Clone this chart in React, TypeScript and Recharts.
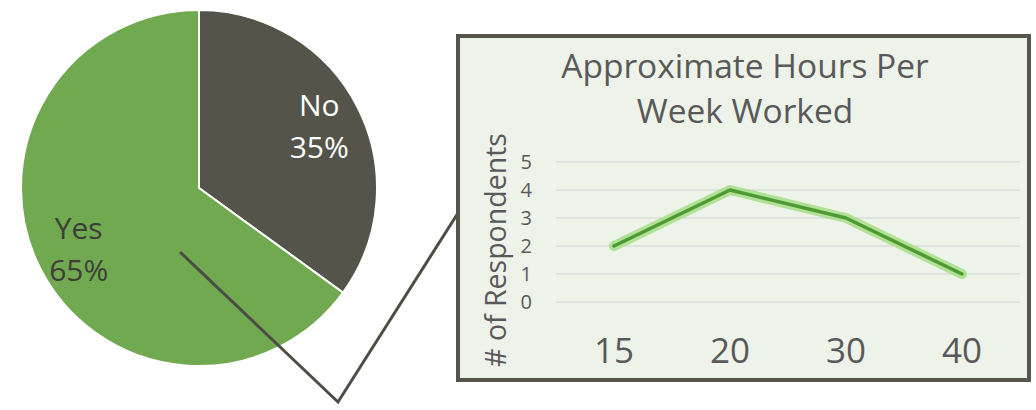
import React from 'react';
import { PieChart, Pie, Cell, LineChart, Line, XAxis, YAxis, CartesianGrid } from 'recharts';

const answers = ['No', 'Yes'];
const answerShares = [35, 65];
const answerColors = ['#54544b', '#71a950'];
const answerTextColors = ['#ffffff', '#3f3f3a'];

const hours = ['15', '20', '30', '40'];
const respondents = [2, 4, 3, 1];
const yTicks = [0, 1, 2, 3, 4, 5];

const pieData = answers.map((name, i) => ({ name, value: answerShares[i] }));
const lineData = hours.map((h, i) => ({ hours: h, value: respondents[i] }));

const FONT = '"Open Sans", "Noto Sans", sans-serif';
const RAD = Math.PI / 180;

const renderPieLabel = (props: any) => {
  const { cx, cy, midAngle, percent, index, name } = props;
  const r = 135;
  const x = cx + r * Math.cos(-midAngle * RAD);
  const y = cy + r * Math.sin(-midAngle * RAD);
  return (
    <text x={x} y={y} textAnchor="middle" fill={answerTextColors[index]} fontSize={30} fontFamily={FONT}>
      <tspan x={x} y={y - 10.5}>{name}</tspan>
      <tspan x={x} y={y + 31.5}>{`${Math.round(percent * 100)}%`}</tspan>
    </text>
  );
};

export default function App() {
  return (
    <div style={{ position: 'absolute', left: 0, top: 0, width: 1036, height: 410, background: '#fff', fontFamily: FONT, overflow: 'hidden' }}>
      <div style={{ position: 'absolute', left: 0, top: 0 }}>
        <PieChart width={440} height={410} margin={{ top: 0, right: 0, bottom: 0, left: 0 }}>
          <Pie
            data={pieData}
            dataKey="value"
            nameKey="name"
            cx={199}
            cy={188}
            outerRadius={178}
            startAngle={90}
            endAngle={-270}
            stroke="#ffffff"
            strokeWidth={2}
            label={renderPieLabel}
            labelLine={false}
            isAnimationActive={false}
          >
            {pieData.map((d, i) => (
              <Cell key={d.name} fill={answerColors[i]} />
            ))}
          </Pie>
        </PieChart>
      </div>
      <svg width={1036} height={410} style={{ position: 'absolute', left: 0, top: 0 }}>
        <polyline points="180,252 338,402 458,213" fill="none" stroke="#4d4d45" strokeWidth={3} />
      </svg>
      <div
        style={{
          position: 'absolute',
          left: 456,
          top: 34,
          width: 575,
          height: 348,
          boxSizing: 'border-box',
          border: '4px solid #55554c',
          background: '#eef3ea',
        }}
      />
      <div style={{ position: 'absolute', left: 460, top: 38 }}>
        <LineChart width={567} height={340} data={lineData} margin={{ top: 124, right: 7, bottom: 0, left: 0 }}>
          <CartesianGrid vertical={false} stroke="#dcdcdc" strokeWidth={1.5} />
          <XAxis
            dataKey="hours"
            type="category"
            padding={{ left: 58, right: 58 }}
            axisLine={false}
            tickLine={false}
            tickSize={0}
            tickMargin={36}
            height={76}
            tick={{ fill: '#595959', fontSize: 35, fontFamily: FONT }}
          />
          <YAxis
            domain={[0, 5]}
            ticks={yTicks}
            axisLine={false}
            tickLine={false}
            tickSize={0}
            tickMargin={24}
            width={96}
            interval={0}
            tick={{ fill: '#595959', fontSize: 20, fontFamily: FONT }}
          />
          <Line
            dataKey="value"
            stroke="#a9df8c"
            strokeOpacity={0.9}
            strokeWidth={10}
            strokeLinejoin="round"
            strokeLinecap="round"
            dot={false}
            activeDot={false}
            isAnimationActive={false}
          />
          <Line
            dataKey="value"
            stroke="#4f9a35"
            strokeWidth={3.5}
            strokeLinejoin="round"
            strokeLinecap="round"
            dot={false}
            activeDot={false}
            isAnimationActive={false}
          />
        </LineChart>
      </div>
      <svg width={1036} height={410} style={{ position: 'absolute', left: 0, top: 0, pointerEvents: 'none' }}>
        <text x={745} y={78} textAnchor="middle" fill="#595959" fontSize={33.5} fontFamily={FONT}>
          Approximate Hours Per
        </text>
        <text x={745} y={123} textAnchor="middle" fill="#595959" fontSize={33.5} fontFamily={FONT}>
          Week Worked
        </text>
        <text
          x={506}
          y={250}
          textAnchor="middle"
          fill="#595959"
          fontSize={28.5}
          fontFamily={FONT}
          transform="rotate(-90, 506, 250)"
        >
          # of Respondents
        </text>
      </svg>
    </div>
  );
}
